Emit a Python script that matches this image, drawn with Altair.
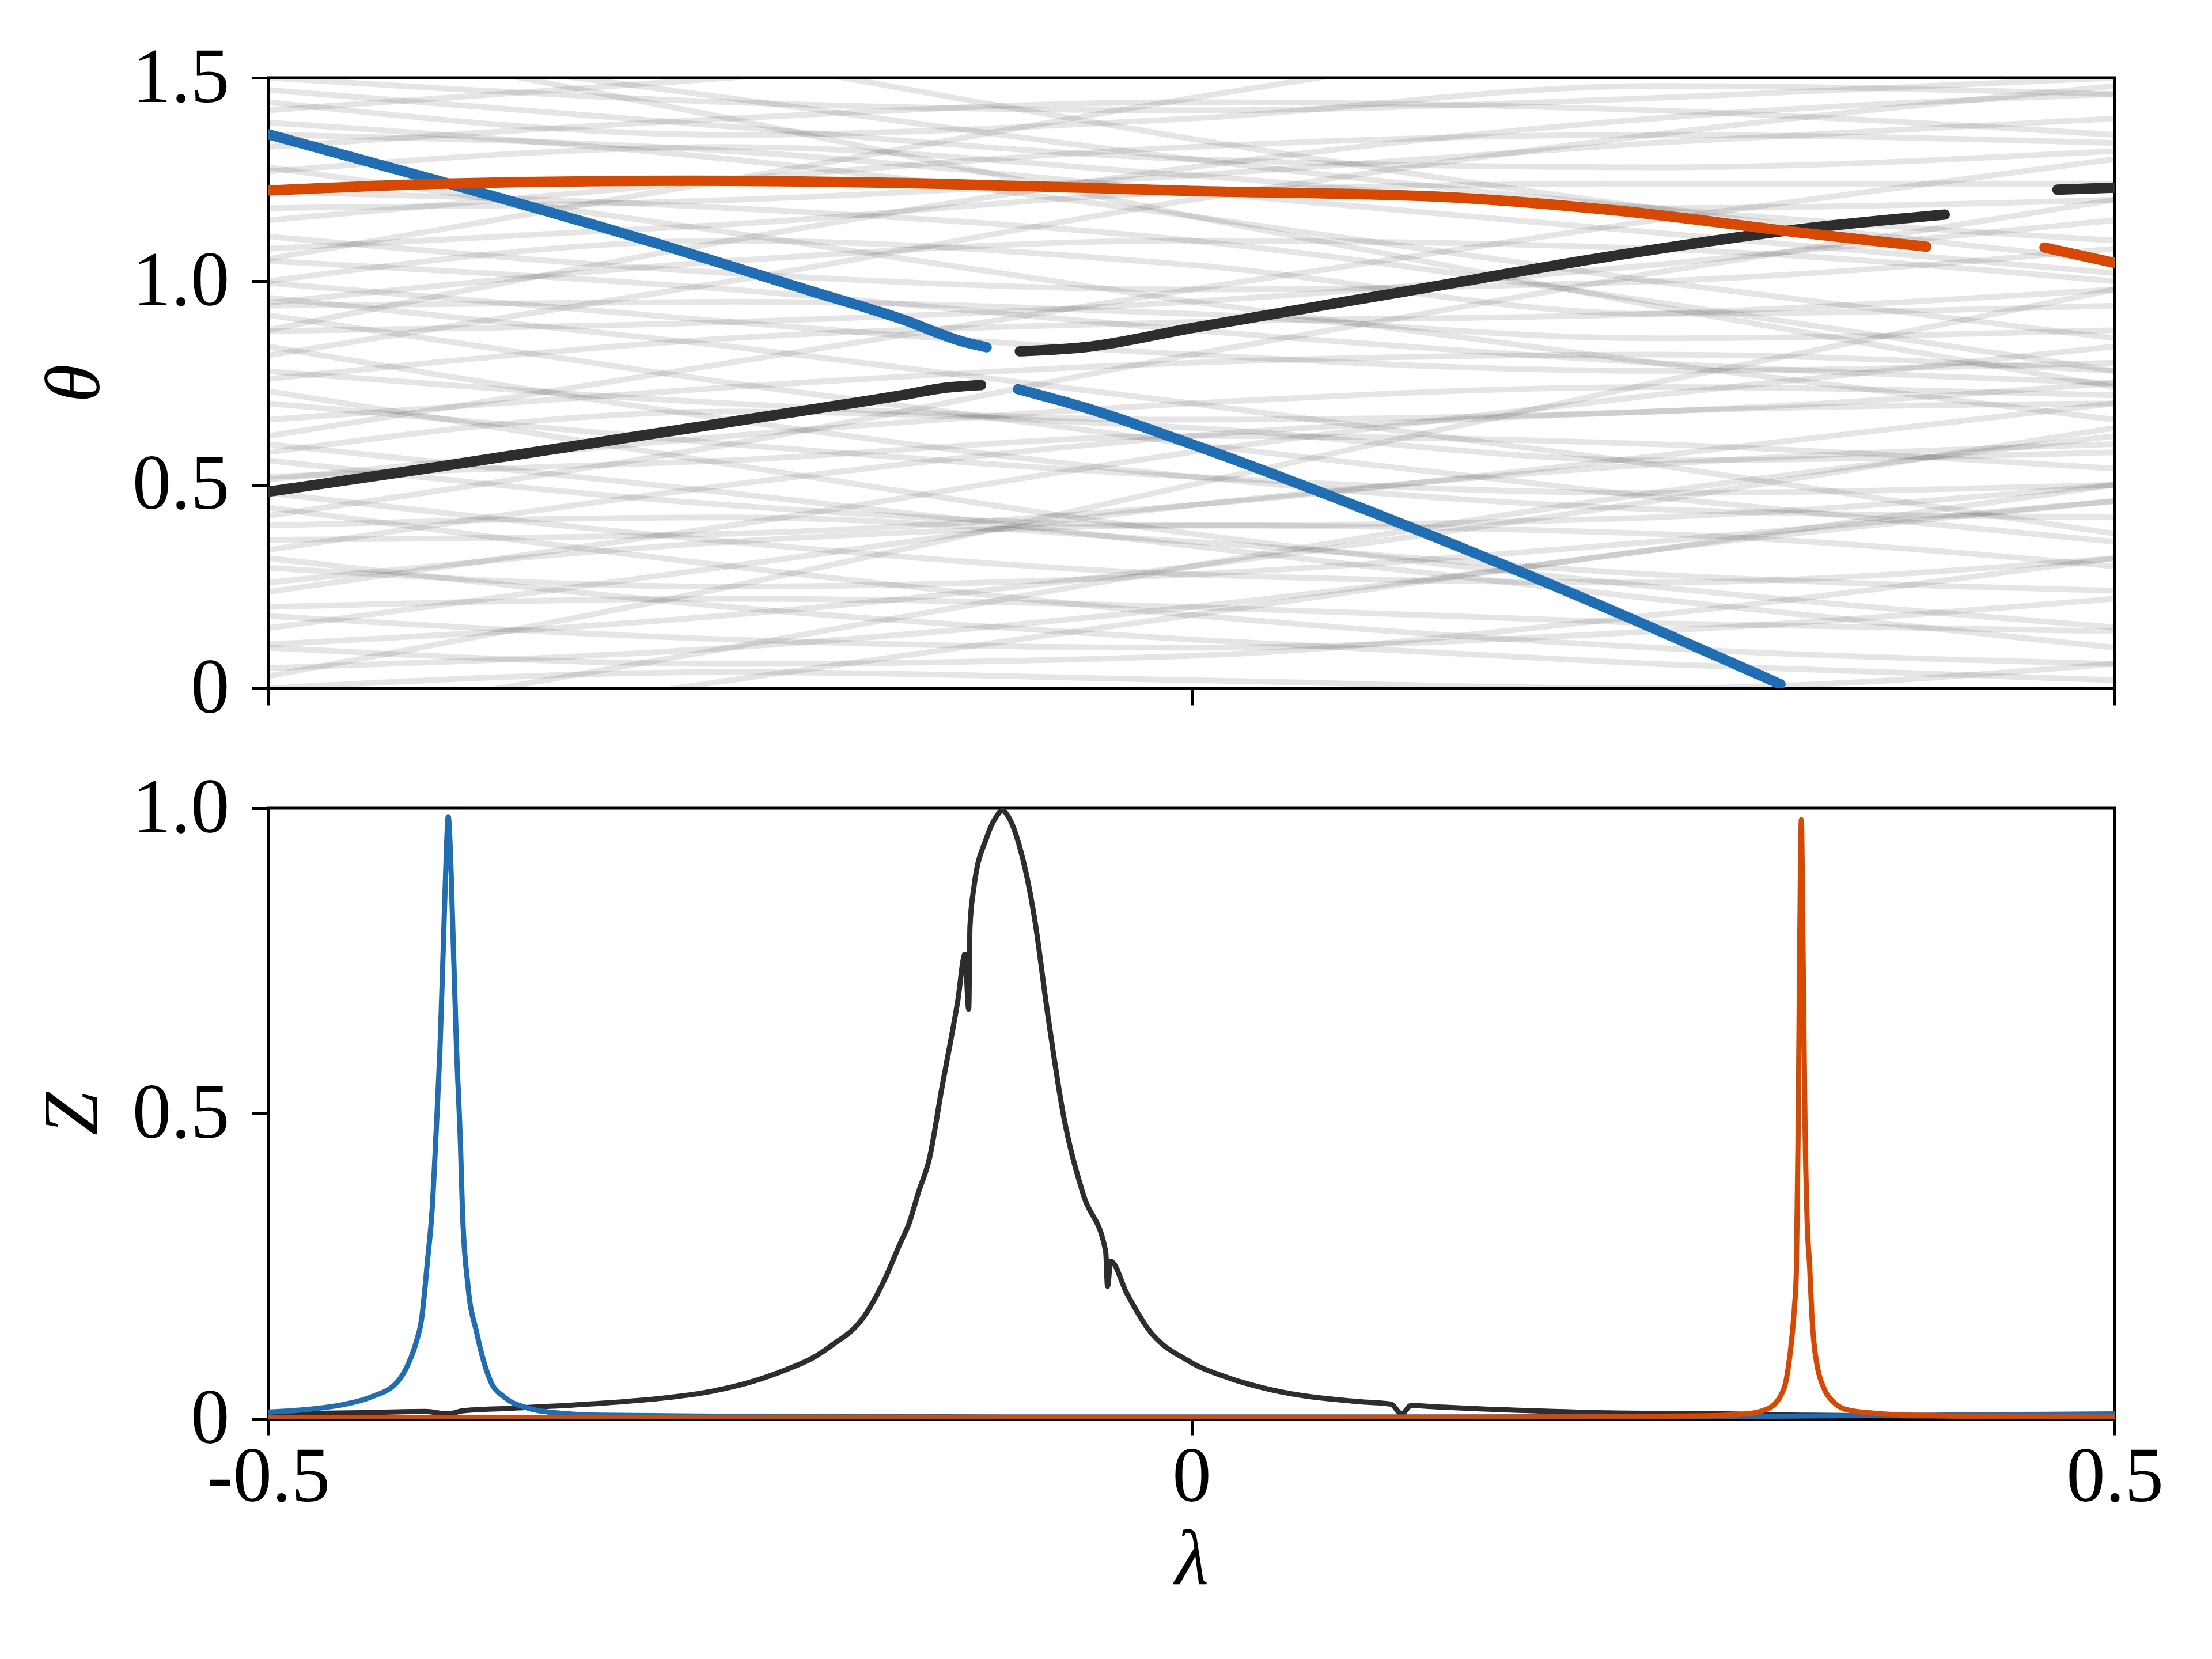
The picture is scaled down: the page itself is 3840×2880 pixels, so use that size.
import altair as alt
import pandas as pd

# ---------------- data ----------------
# background spectrum (grey) : theta at the knots below, one list per line
GRAY_KNOTS = [-0.5, -0.25, 0.0, 0.25, 0.5]
GRAY_LINES = [
    [1.47, 1.38, 1.30, 1.28, 1.32],
    [1.42, 1.50, 1.58, 1.62, 1.60],
    [1.39, 1.30, 1.16, 1.00, 0.86],
    [1.33, 1.40, 1.44, 1.42, 1.36],
    [1.28, 1.12, 0.95, 0.80, 0.66],
    [1.18, 1.20, 1.26, 1.34, 1.40],
    [1.11, 1.02, 0.98, 1.00, 1.08],
    [1.055, 1.25, 1.45, 1.62, 1.75],
    [0.996, 0.90, 0.82, 0.78, 0.80],
    [0.947, 1.05, 1.10, 1.08, 1.00],
    [0.917, 0.75, 0.60, 0.47, 0.36],
    [0.878, 0.90, 0.95, 1.04, 1.15],
    [0.818, 1.00, 1.20, 1.36, 1.48],
    [0.779, 0.70, 0.66, 0.68, 0.75],
    [0.73, 0.55, 0.38, 0.25, 0.15],
    [0.66, 0.74, 0.80, 0.82, 0.78],
    [0.62, 0.80, 0.98, 1.15, 1.30],
    [0.56, 0.45, 0.40, 0.42, 0.50],
    [0.513, 0.62, 0.70, 0.74, 0.72],
    [0.444, 0.30, 0.18, 0.10, 0.06],
    [0.424, 0.60, 0.82, 1.02, 1.20],
    [0.365, 0.38, 0.45, 0.57, 0.70],
    [0.296, 0.25, 0.28, 0.36, 0.46],
    [0.237, 0.40, 0.58, 0.72, 0.84],
    [0.178, 0.12, 0.10, 0.14, 0.22],
    [0.148, 0.30, 0.45, 0.55, 0.60],
    [0.108, 0.18, 0.30, 0.46, 0.64],
    [0.05, 0.10, 0.20, 0.34, 0.50],
    [0.03, 0.25, 0.50, 0.75, 0.98],
    [-0.10, 0.10, 0.30, 0.48, 0.62],
    [1.60, 1.45, 1.30, 1.18, 1.10],
    [1.75, 1.55, 1.35, 1.18, 1.05],
    [0.60, 0.48, 0.35, 0.22, 0.10],
    [0.96, 0.84, 0.70, 0.55, 0.38],
    [1.22, 1.18, 1.10, 0.95, 0.78],
    [0.34, 0.50, 0.62, 0.68, 0.70],
    [0.70, 0.60, 0.52, 0.48, 0.50],
    [1.05, 0.98, 0.88, 0.80, 0.75],
    [1.15, 1.25, 1.33, 1.36, 1.34],
    [0.26, 0.36, 0.40, 0.38, 0.30],
    [0.40, 0.42, 0.36, 0.28, 0.24],
    [0.84, 0.66, 0.52, 0.44, 0.42],
    [1.36, 1.32, 1.22, 1.12, 1.02],
    [1.50, 1.44, 1.42, 1.45, 1.50],
    [0.20, 0.22, 0.20, 0.16, 0.14],
    [0.94, 0.95, 0.92, 0.86, 0.88],
    [0.48, 0.36, 0.28, 0.26, 0.32],
    [1.27, 1.33, 1.26, 1.18, 1.20],
    [-0.15, 0.02, 0.18, 0.34, 0.46],
    [0.76, 0.86, 0.90, 0.92, 0.98],
    [1.62, 1.40, 1.16, 0.94, 0.74],
    [0.10, 0.06, 0.08, 0.18, 0.32],
    [1.44, 1.36, 1.40, 1.48, 1.46],
    [0.58, 0.68, 0.64, 0.56, 0.58],
    [1.08, 1.14, 1.22, 1.24, 1.24],
    [0.32, 0.20, 0.12, 0.06, 0.02],
    [1.00, 1.10, 1.04, 0.92, 0.94],
    [0.00, 0.04, 0.02, 0.00, 0.06],
    [0.88, 1.10, 1.28, 1.40, 1.46],
    [0.52, 0.56, 0.62, 0.60, 0.54],
]

# highlighted eigenphases (top panel)
BLUE_A_LAM = [-0.5, -0.404, -0.305, -0.206, -0.157, -0.124, -0.111]
BLUE_A_THETA = [1.361, 1.242, 1.114, 0.976, 0.907, 0.852, 0.838]
BLUE_B_LAM = [-0.094, -0.058, 0.0, 0.1, 0.199, 0.319]
BLUE_B_THETA = [0.735, 0.690, 0.600, 0.429, 0.247, 0.010]
DARK_A_LAM = [-0.5, -0.404, -0.305, -0.206, -0.157, -0.134, -0.114]
DARK_A_THETA = [0.483, 0.547, 0.616, 0.685, 0.720, 0.738, 0.745]
DARK_B_LAM = [-0.093, -0.058, 0.0, 0.117, 0.232, 0.331, 0.408]
DARK_B_THETA = [0.828, 0.838, 0.885, 0.976, 1.065, 1.129, 1.164]
DARK_C_LAM = [0.469, 0.5]
DARK_C_THETA = [1.225, 1.230]
ORANGE_A_LAM = [-0.5, -0.404, -0.272, -0.140, 0.0, 0.133, 0.232, 0.331, 0.398]
ORANGE_A_THETA = [1.223, 1.240, 1.247, 1.240, 1.222, 1.208, 1.173, 1.119, 1.085]
ORANGE_B_LAM = [0.462, 0.5]
ORANGE_B_THETA = [1.083, 1.045]

# weights Z (bottom panel)
DARK_Z_LAM = [-0.5, -0.45, -0.415, -0.4026, -0.395, -0.37, -0.327, -0.283, -0.26, -0.239,
              -0.22, -0.205, -0.195, -0.1775, -0.1664, -0.158, -0.153, -0.148, -0.142,
              -0.1354, -0.1266, -0.1227, -0.1207, -0.1200, -0.1179, -0.1112, -0.106,
              -0.1025, -0.099, -0.0937, -0.0849, -0.0783, -0.0695, -0.0585, -0.0465,
              -0.0455, -0.0438, -0.035, -0.0235, -0.0015, 0.02, 0.0424, 0.0907, 0.108,
              0.1138, 0.119, 0.13, 0.167, 0.2214, 0.29, 0.33, 0.4, 0.5]
DARK_Z = [0.008, 0.010, 0.012, 0.008, 0.013, 0.017, 0.024, 0.035, 0.045, 0.060,
          0.080, 0.100, 0.120, 0.167, 0.227, 0.286, 0.320, 0.370, 0.426,
          0.539, 0.685, 0.761, 0.671, 0.807, 0.870, 0.950, 0.985,
          0.996, 0.985, 0.943, 0.817, 0.671, 0.499, 0.366, 0.274,
          0.217, 0.258, 0.205, 0.147, 0.0945, 0.067, 0.048, 0.028, 0.024,
          0.008, 0.022, 0.020, 0.015, 0.010, 0.008, 0.006, 0.004, 0.004]
BLUE_Z_LAM = [-0.5, -0.48, -0.46, -0.445, -0.43, -0.425, -0.42, -0.4172, -0.4138, -0.4114,
              -0.409, -0.4071, -0.405, -0.4035, -0.4026, -0.4016, -0.4001, -0.3981, -0.396,
              -0.3949, -0.392, -0.3872, -0.383, -0.3796, -0.372, -0.36, -0.345, -0.32,
              -0.25, -0.1, 0.1, 0.3, 0.4, 0.5]
BLUE_Z = [0.011, 0.015, 0.023, 0.035, 0.061, 0.085, 0.125, 0.16, 0.26, 0.34,
          0.48, 0.605, 0.80, 0.94, 0.986, 0.94, 0.80, 0.605, 0.45,
          0.34, 0.22, 0.141, 0.09, 0.061, 0.035, 0.018, 0.010, 0.006,
          0.004, 0.003, 0.003, 0.004, 0.006, 0.008]
ORANGE_Z_LAM = [-0.5, 0.0, 0.2, 0.28, 0.3007, 0.31, 0.3155, 0.3195, 0.3217, 0.3235, 0.325,
                0.3265, 0.3276, 0.3286, 0.3295, 0.3303, 0.3311, 0.3323, 0.3335, 0.3348,
                0.336, 0.337, 0.339, 0.3425, 0.3475, 0.3548, 0.37, 0.3894, 0.43, 0.5]
ORANGE_Z = [0.002, 0.002, 0.003, 0.005, 0.008, 0.014, 0.023, 0.04, 0.058, 0.09, 0.128,
            0.18, 0.241, 0.478, 0.80, 0.981, 0.80, 0.478, 0.32, 0.25,
            0.17, 0.128, 0.085, 0.05, 0.028, 0.015, 0.009, 0.006, 0.004, 0.003]

X_TICKS = [-0.5, 0.0, 0.5]
THETA_TICKS = [0.0, 0.5, 1.0, 1.5]
Z_TICKS = [0.0, 0.5, 1.0]

BLUE = "#1f6eb3"
ORANGE = "#d94801"
DARK = "#2d2d2d"
FONT = "Liberation Serif"

# ---------------- frames ----------------
gray_rows = []
for i, line in enumerate(GRAY_LINES):
    for lam, th in zip(GRAY_KNOTS, line):
        gray_rows.append({"lam": lam, "theta": th, "line": i})
gray_df = pd.DataFrame(gray_rows)


def seg_df(lams, vals, name, key="theta"):
    return pd.DataFrame({"lam": lams, key: vals, "seg": name})


top_blue = pd.concat([seg_df(BLUE_A_LAM, BLUE_A_THETA, "a"), seg_df(BLUE_B_LAM, BLUE_B_THETA, "b")])
top_dark = pd.concat([seg_df(DARK_A_LAM, DARK_A_THETA, "a"), seg_df(DARK_B_LAM, DARK_B_THETA, "b"),
                      seg_df(DARK_C_LAM, DARK_C_THETA, "c")])
top_orange = pd.concat([seg_df(ORANGE_A_LAM, ORANGE_A_THETA, "a"), seg_df(ORANGE_B_LAM, ORANGE_B_THETA, "b")])

bot_dark = seg_df(DARK_Z_LAM, DARK_Z, "a", "z")
bot_blue = seg_df(BLUE_Z_LAM, BLUE_Z, "a", "z")
bot_orange = seg_df(ORANGE_Z_LAM, ORANGE_Z, "a", "z")

# ---------------- scales / axes ----------------
xscale = alt.Scale(domain=[-0.5, 0.5], nice=False, zero=False)
tscale = alt.Scale(domain=[0, 1.5], nice=False)
zscale = alt.Scale(domain=[0, 1], nice=False)

num_expr = "datum.value == 0 ? '0' : (datum.value < 0 ? '-' : '') + format(abs(datum.value), '.1f')"

x_top_axis = alt.Axis(values=X_TICKS, labels=False, title=None)
x_bot_axis = alt.Axis(values=X_TICKS, labelExpr=num_expr, title="λ", labelPadding=6, titlePadding=10)
t_axis = alt.Axis(values=THETA_TICKS, labelExpr=num_expr, title="θ", titlePadding=67)
z_axis = alt.Axis(values=Z_TICKS, labelExpr=num_expr, title="Z", titlePadding=71)

W, H = 3205, 1060

gray = alt.Chart(gray_df).mark_line(
    stroke="black", strokeOpacity=0.1, strokeWidth=10, interpolate="monotone", clip=True
).encode(
    x=alt.X("lam:Q", scale=xscale, axis=x_top_axis),
    y=alt.Y("theta:Q", scale=tscale, axis=t_axis),
    detail="line:N",
)


def top_layer(df, color):
    return alt.Chart(df).mark_line(
        stroke=color, strokeWidth=18, strokeCap="round", interpolate="monotone", clip=True
    ).encode(
        x=alt.X("lam:Q", scale=xscale, axis=x_top_axis),
        y=alt.Y("theta:Q", scale=tscale, axis=t_axis),
        detail="seg:N",
    )


top = alt.layer(gray, top_layer(top_blue, BLUE), top_layer(top_dark, DARK),
                top_layer(top_orange, ORANGE)).properties(width=W, height=H)


def bot_layer(df, color):
    return alt.Chart(df).mark_line(
        stroke=color, strokeWidth=9, interpolate="monotone", clip=True
    ).encode(
        x=alt.X("lam:Q", scale=xscale, axis=x_bot_axis),
        y=alt.Y("z:Q", scale=zscale, axis=z_axis),
    )


bottom = alt.layer(bot_layer(bot_dark, DARK), bot_layer(bot_blue, BLUE),
                   bot_layer(bot_orange, ORANGE)).properties(width=W, height=H)

chart = alt.vconcat(top, bottom, spacing=67).properties(
    padding={"left": 48, "top": 57, "right": 10, "bottom": 30},
    background="white",
).configure_view(
    stroke="black", strokeWidth=5
).configure_axis(
    grid=False,
    domainColor="black", domainWidth=5,
    tickColor="black", tickWidth=5, tickSize=29,
    labelFont=FONT, labelFontSize=135, labelColor="black",
    labelPadding=39, labelFlush=False, labelOverlap=False, labelLimit=1000,
    titleFont=FONT, titleFontSize=135, titleFontStyle="italic", titleFontWeight="normal",
    titleColor="black",
)

chart.save("out.html", embed_options={"renderer": "svg", "actions": False})
